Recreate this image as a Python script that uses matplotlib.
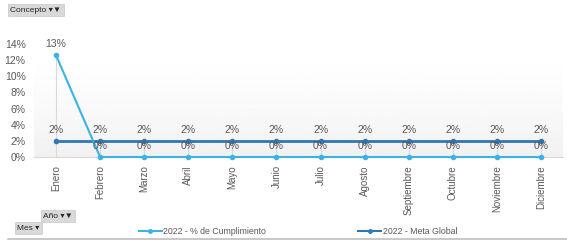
import numpy as np
import matplotlib
matplotlib.use("Agg")
import matplotlib.pyplot as plt
from matplotlib.lines import Line2D

plt.rcParams["font.family"] = ["Liberation Sans", "DejaVu Sans"]

# datos del grafico
meses = ["Enero", "Febrero", "Marzo", "Abril", "Mayo", "Junio", "Julio",
         "Agosto", "Septiembre", "Octubre", "Noviembre", "Diciembre"]
cumplimiento = [0.126, 0, 0, 0, 0, 0, 0, 0, 0, 0, 0, 0]
meta_global = [0.02] * 12
y_ticks = [0, 0.02, 0.04, 0.06, 0.08, 0.10, 0.12, 0.14]

c_cumpl = "#3bb3e4"
c_meta = "#2f78b8"
c_text = "#595959"

fig = plt.figure(figsize=(5.67, 2.41), dpi=100)
ax = fig.add_axes([34 / 567, 1 - 157 / 241, 529 / 567, 113 / 241])

x = np.arange(len(meses))
ax.set_xlim(-0.5, len(meses) - 0.5)
ax.set_ylim(0, 0.14)

# fondo degradado del area de trazado
grad = (1.0 - 0.055 * np.linspace(0, 1, 100) ** 1.5).reshape(-1, 1)
ax.imshow(grad, extent=(-0.5, len(meses) - 0.5, 0, 0.14), aspect="auto",
          cmap="gray", vmin=0, vmax=1, origin="upper", zorder=0)

# lineas de unión verticales
tops = [max(a, b) for a, b in zip(cumplimiento, meta_global)]
ax.vlines(x, 0, tops, color="#d9d9d9", lw=0.8, zorder=1)

ax.plot(x, meta_global, color=c_meta, lw=2, marker="o", ms=3, zorder=2,
        clip_on=False)
ax.plot(x, cumplimiento, color=c_cumpl, lw=1.5, marker="o", ms=3, zorder=3,
        clip_on=False)

for i in x:
    ax.annotate(f"{cumplimiento[i]:.0%}", (i, cumplimiento[i]), xytext=(0, 8),
                textcoords="offset points", ha="center", va="center",
                fontsize=7.5, color=c_text, zorder=4)
    ax.annotate(f"{meta_global[i]:.0%}", (i, meta_global[i]), xytext=(0, 8),
                textcoords="offset points", ha="center", va="center",
                fontsize=7.5, color=c_text, zorder=4)

ax.set_xticks(x)
ax.set_xticklabels(meses, rotation=90, fontsize=7, color=c_text)
ax.set_yticks(y_ticks)
ax.set_yticklabels([f"{v:.0%}" for v in y_ticks], fontsize=7.5, color=c_text)
ax.tick_params(length=0, pad=6)
for s in ["top", "right", "left"]:
    ax.spines[s].set_visible(False)
ax.spines["bottom"].set_color("#d9d9d9")

# botones de campo
btn = dict(boxstyle="square,pad=0.3", fc="#d9d9d9", ec="#c8c8c8", lw=0.5)
fig.text(10 / 567, 1 - 10 / 241, "Concepto ▾▼", fontsize=6, color="#262626",
         va="center", bbox=btn)
fig.text(43 / 567, 1 - 216 / 241, "Año ▾▼", fontsize=6, color="#262626",
         va="center", bbox=btn)
fig.text(17 / 567, 1 - 228 / 241, "Mes ▾", fontsize=6, color="#262626",
         va="center", bbox=btn)

# leyenda
handles = [Line2D([], [], color=c_cumpl, lw=1.5, marker="o", ms=2.5),
           Line2D([], [], color=c_meta, lw=1.5, marker="o", ms=2.5)]
fig.legend(handles, ["2022 - % de Cumplimiento", "2022 - Meta Global"],
           loc="center", bbox_to_anchor=(298 / 567, 1 - 232 / 241), ncol=2,
           frameon=False, fontsize=6.3, handlelength=2.6, handletextpad=0.2,
           columnspacing=10.5, labelcolor=c_text)

fig.add_artist(Line2D([8 / 567, 1], [1 - 239 / 241] * 2, color="#bfbfbf",
                      lw=1.2))

fig.savefig("out.png", dpi=100)
